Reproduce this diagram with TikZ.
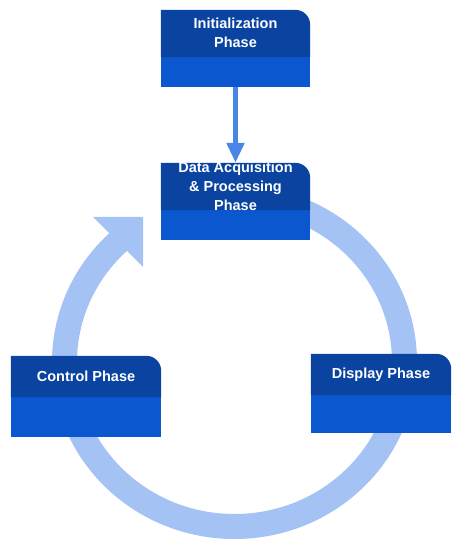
\documentclass[tikz,border=0pt]{standalone}
\usepackage{fontspec}
\setmainfont{Liberation Sans}
\usetikzlibrary{arrows.meta}

\definecolor{phasedark}{HTML}{0A44A0}
\definecolor{phaselight}{HTML}{0B57CF}
\definecolor{ringblue}{HTML}{A4C2F4}
\definecolor{linkblue}{HTML}{4A86E8}

\begin{document}
\begin{tikzpicture}[x=1pt,y=1pt,
  phase/.style={minimum width=149pt,minimum height=77pt,inner sep=0pt},
  phasetext/.style={text=white,font=\fontsize{14.5}{19}\selectfont\bfseries,align=center},
  ring/.style={ringblue,line width=25pt}]

\useasboundingbox (0,0) rectangle (451,540);

\node[phase] (init) at (235.5,491.5) {};
\node[phase] (data) at (235.5,338.5) {};
\node[phase,minimum width=150pt,minimum height=81pt] (ctrl) at (86,143.5) {};
\node[phase,minimum width=140pt,minimum height=79pt] (disp) at (381,146.5) {};

% the loop
\coordinate (ringc) at (234.5,178);
\draw[ring] ([yshift=164.5pt]ringc) arc[start angle=90,end angle=-228,x radius=170pt,y radius=164.5pt];
\fill[ringblue] (93,323) -- (143,323) -- (143,273) -- cycle;

\draw[linkblue,line width=5pt,-{Triangle[length=20pt,width=17pt]}] (init) -- (data);

% boxes
\foreach \n/\h in {init/30pt,data/30pt,ctrl/40pt,disp/38pt} {
  \fill[phaselight] (\n.south west) rectangle ([yshift=\h]\n.south east);
  \fill[phasedark] ([yshift=\h]\n.south west) -- (\n.north west) -- ([xshift=-15pt]\n.north east)
    arc[start angle=90,end angle=0,radius=15pt] -- ([yshift=\h]\n.south east) -- cycle;
}

\node[phasetext] (initlbl) at ([yshift=-23.5pt]init.north) {Initialization\\Phase};
\node[phasetext] (datalbl) at ([yshift=-24pt]data.north) {Data Acquisition\\\& Processing\\Phase};
\node[phasetext] (ctrllbl) at ([yshift=-21pt]ctrl.north) {Control Phase};
\node[phasetext] (displbl) at ([yshift=-21pt]disp.north) {Display Phase};

\end{tikzpicture}
\end{document}
